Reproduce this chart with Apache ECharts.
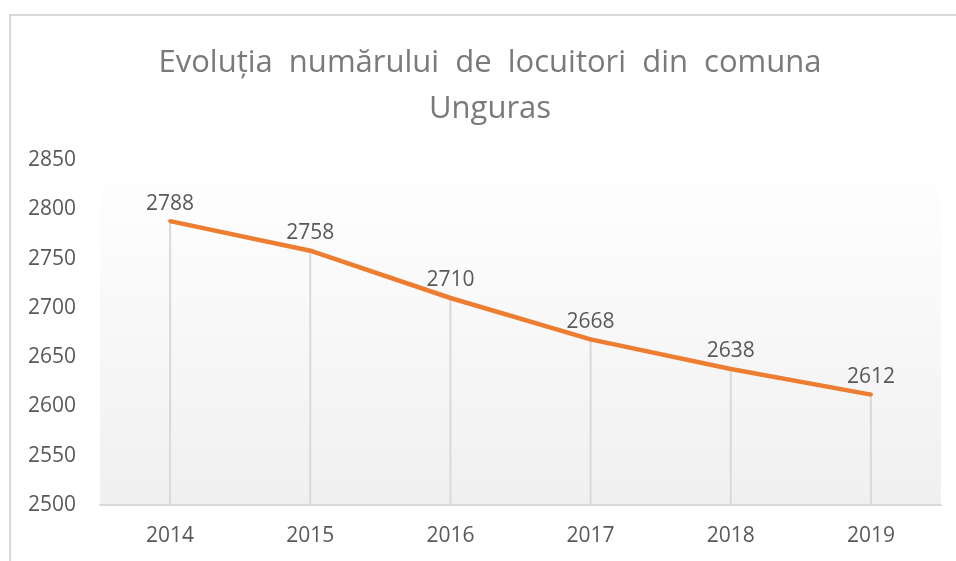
<!DOCTYPE html>
<html>
<head>
<meta charset="utf-8">
<script src="https://cdn.jsdelivr.net/npm/echarts@6/dist/echarts.min.js"></script>
<style>html,body{margin:0;padding:0;background:#fff;}#c{width:956px;height:561px;}</style>
</head>
<body>
<div id="c"></div>
<script>
var titleText = 'Evoluția  numărului  de  locuitori  din  comuna\nUnguras';
var years = ['2014', '2015', '2016', '2017', '2018', '2019'];
var population = [2788, 2758, 2710, 2668, 2638, 2612];
var yMin = 2500, yMax = 2850, yStep = 50;

var chart = echarts.init(document.getElementById('c'), null, {renderer: 'canvas'});
var font = 'Open Sans';
chart.setOption({
  backgroundColor: '#ffffff',
  animation: false,
  graphic: [{
    type: 'rect', left: 9, top: 14, z: -1,
    shape: {width: 1000, height: 600},
    style: {fill: 'transparent', stroke: '#d9d9d9', lineWidth: 2}
  }],
  title: {
    text: titleText,
    left: 485, top: 35, textAlign: 'center',
    textStyle: {fontFamily: font, fontSize: 31, fontWeight: 'normal', color: '#7a7a7a', lineHeight: 46}
  },
  grid: {
    left: 100, right: 15, top: 160, bottom: 56,
    show: true, borderWidth: 0,
    backgroundColor: new echarts.graphic.LinearGradient(0, 0, 0, 1, [
      {offset: 0, color: '#ffffff'},
      {offset: 1, color: '#f0f0f0'}
    ])
  },
  xAxis: {
    type: 'category', data: years, boundaryGap: true,
    axisLine: {show: true, lineStyle: {color: '#d9d9d9', width: 2}},
    axisTick: {show: false},
    axisLabel: {fontFamily: font, fontSize: 21, color: '#595959', margin: 21},
    splitLine: {show: false}
  },
  yAxis: {
    type: 'value', min: yMin, max: yMax, interval: yStep,
    axisLine: {show: false}, axisTick: {show: false},
    splitLine: {show: false},
    axisLabel: {fontFamily: font, fontSize: 21, color: '#595959', margin: 24,
      formatter: function (v) { return String(v); }}
  },
  series: [{
    type: 'bar', data: population, barWidth: 2, silent: true,
    itemStyle: {color: '#d9d9d9'}, z: 1
  }, {
    type: 'line', data: population, z: 3,
    symbol: 'circle', symbolSize: 4, showSymbol: true,
    itemStyle: {color: '#ed7d31'},
    lineStyle: {color: '#ed7d31', width: 4.5},
    label: {show: true, position: 'top', distance: 5, fontFamily: font, fontSize: 21, color: '#595959'}
  }]
});
</script>
</body>
</html>
